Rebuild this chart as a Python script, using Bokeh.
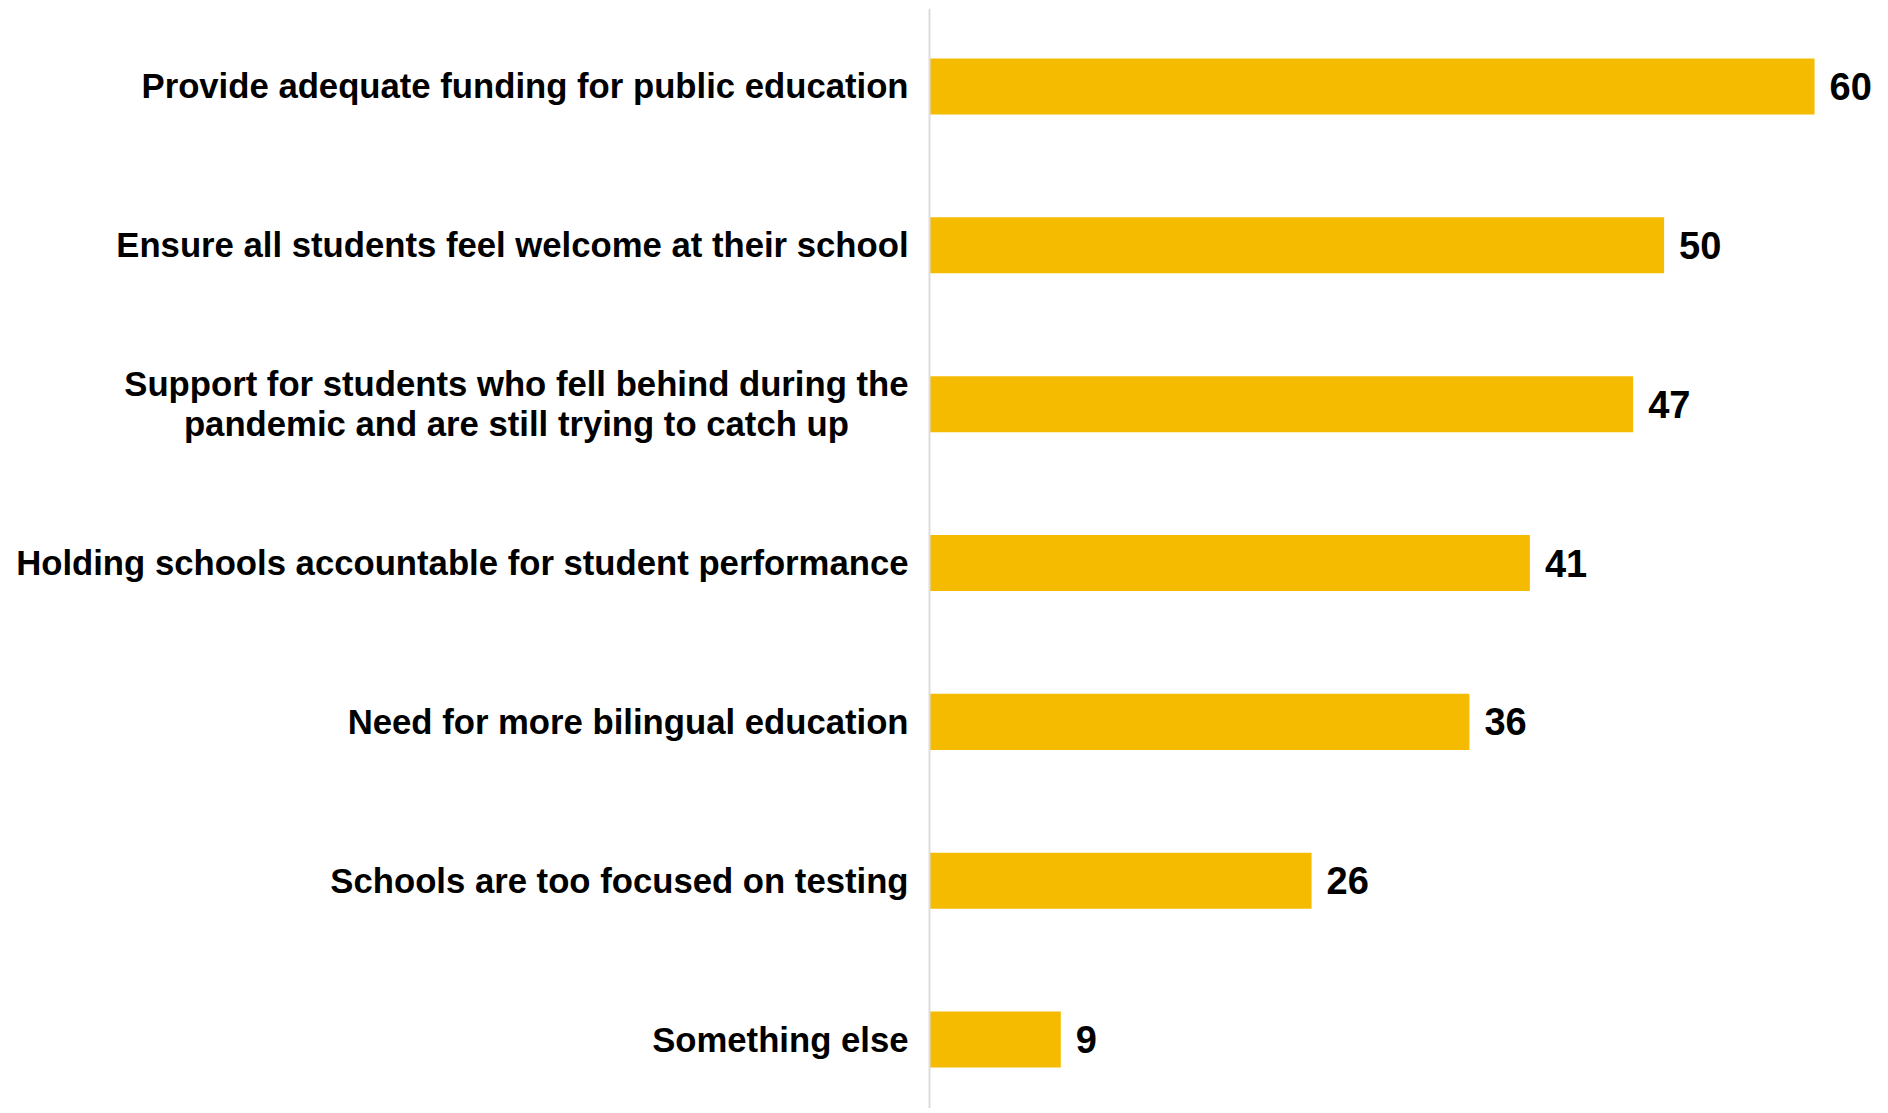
from bokeh.plotting import figure
from bokeh.models import ColumnDataSource, Range1d, Span
from bokeh.core.properties import value
from bokeh.embed import file_html
from bokeh.resources import INLINE

# Data (top to bottom)
categories = [
    "Provide adequate funding for public education",
    "Ensure all students feel welcome at their school",
    "Support for students who fell behind during the\npandemic and are still trying to catch up",
    "Holding schools accountable for student performance",
    "Need for more bilingual education",
    "Schools are too focused on testing",
    "Something else",
]
# bar lengths as drawn in the picture
values = [60, 49.8, 47.7, 40.7, 36.6, 25.9, 8.9]
# value labels as printed
value_labels = ["60", "50", "47", "41", "36", "26", "9"]

BAR_COLOR = "#F5BB00"
FONT = "Liberation Sans"

ys = [-i for i in range(len(categories))]
src = ColumnDataSource(dict(
    y=ys,
    cat=categories,
    val=values,
    lbl=value_labels,
    zero=[0] * len(values),
))

p = figure(
    width=1880, height=1108,
    x_range=Range1d(-62.44, 64.47),
    y_range=Range1d(-6.434, 0.491),
    output_backend="svg", toolbar_location=None,
    min_border=0, min_border_left=8, min_border_top=8,
)
p.axis.visible = False
p.grid.visible = False
p.outline_line_color = None
p.background_fill_color = "white"
p.border_fill_color = "white"

p.hbar(y="y", left="zero", right="val", height=0.353, source=src,
       fill_color=BAR_COLOR, line_color=None)

p.add_layout(Span(location=0, dimension="height", line_color="#DCDCDC", line_width=2))

p.text(x="zero", y="y", text="cat", source=src,
       x_offset=-21, anchor="center_right", text_align="center", text_baseline="middle",
       text_font=value(FONT), text_font_style="bold", text_font_size="34.7px",
       text_color="black", text_line_height=1.04)

p.text(x="val", y="y", text="lbl", source=src,
       x_offset=15, text_align="left", text_baseline="middle",
       text_font=value(FONT), text_font_style="bold", text_font_size="38px",
       text_color="black")

open("out.html", "w").write(file_html(p, INLINE))
